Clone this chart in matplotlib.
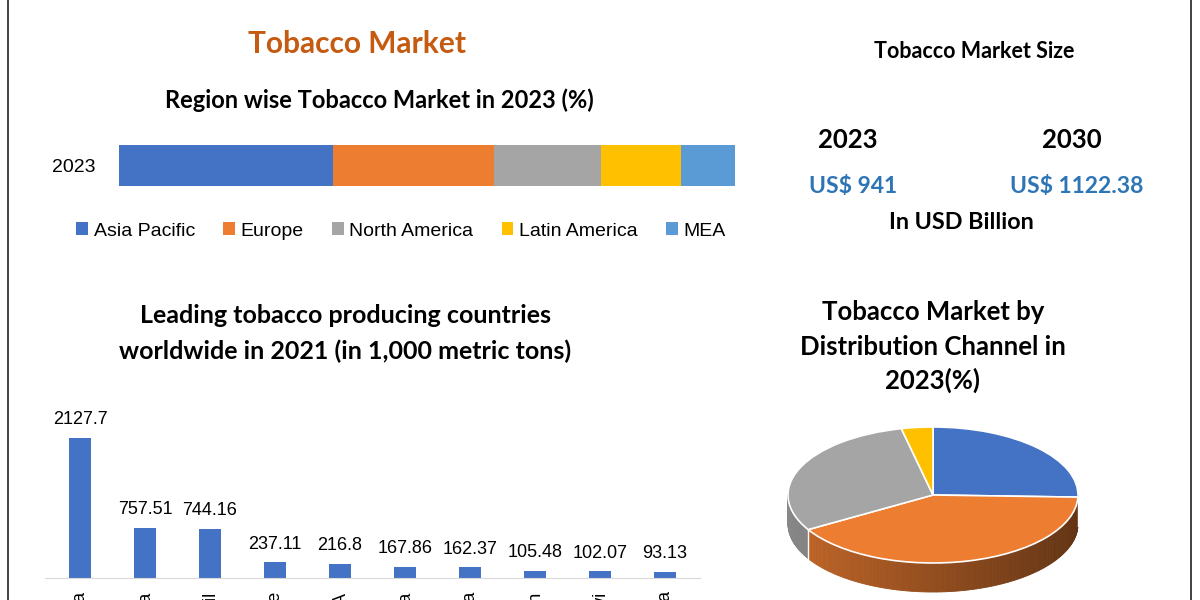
import numpy as np
import matplotlib
matplotlib.use("Agg")
import matplotlib.pyplot as plt
from matplotlib.patches import Wedge
from matplotlib.collections import PolyCollection
from matplotlib.lines import Line2D
from matplotlib.transforms import Affine2D
from matplotlib.colors import to_rgb

plt.rcParams['font.family'] = ['Liberation Sans', 'DejaVu Sans']
TITLE_FONT = ['Lato', 'DejaVu Sans']

# region share 2023 (%)
regions = ['Asia Pacific', 'Europe', 'North America', 'Latin America', 'MEA']
region_share = [34.7, 26.1, 17.4, 13.0, 8.8]
region_colors = ['#4472C4', '#ED7D31', '#A5A5A5', '#FFC000', '#5B9BD5']

# producing countries 2021 (1,000 metric tons)
countries = ['China', 'India', 'Brazil', 'Zimbabwe', 'USA', 'Indonesia',
             'Zambia', 'Pakistan', 'Malawi', 'Tanzania']
production = [2127.7, 757.51, 744.16, 237.11, 216.8, 167.86, 162.37, 105.48, 102.07, 93.13]

# distribution channel share 2023 (%)
channels = ['Channel A', 'Channel B', 'Channel C', 'Channel D']
channel_share = [25.5, 41.0, 30.0, 3.5]
channel_colors = ['#4472C4', '#ED7D31', '#A5A5A5', '#FFC000']

size_years = ['2023', '2030']
size_values = ['US$ 941', 'US$ 1122.38']

W, H = 1200, 600
fig = plt.figure(figsize=(12, 6), dpi=100)


def ft(x, y, s, **kw):
    fig.text(x / W, 1 - y / H, s, ha='center', va='center', **kw)


# ---- titles / text blocks
ft(357, 44, 'Tobacco Market', fontsize=21.5, fontweight='bold', color='#C55A11', family=TITLE_FONT)
ft(379, 100, 'Region wise Tobacco Market in 2023 (%)', fontsize=17, fontweight='bold', family=TITLE_FONT)
ft(345, 316, 'Leading tobacco producing countries', fontsize=18, fontweight='bold', family=TITLE_FONT)
ft(345, 351, 'worldwide in 2021 (in 1,000 metric tons)', fontsize=18, fontweight='bold', family=TITLE_FONT)
ft(974, 52, 'Tobacco Market Size', fontsize=15.5, fontweight='bold', family=TITLE_FONT)
for xx, yr, val in zip([848, 1072], size_years, size_values):
    ft(xx, 140, yr, fontsize=18.5, fontweight='bold', family=TITLE_FONT)
    ft(xx + 5, 186, val, fontsize=16.5, fontweight='bold', color='#2E75B6', family=TITLE_FONT)
ft(961, 223, 'In USD Billion', fontsize=16.8, fontweight='bold', family=TITLE_FONT)
for yy, line in zip([312, 347, 380], ['Tobacco Market by', 'Distribution Channel in', '2023(%)']):
    ft(933, yy, line, fontsize=18.5, fontweight='bold', family=TITLE_FONT)

# ---- stacked bar
ax1 = fig.add_axes([119 / W, 1 - 186 / H, 616 / W, 41 / H])
left = np.concatenate([[0], np.cumsum(region_share)[:-1]])
handles = []
for name, v, l, c in zip(regions, region_share, left, region_colors):
    handles.append(ax1.barh(0, v, left=l, height=1, color=c, label=name))
ax1.set_xlim(0, sum(region_share))
ax1.set_ylim(-0.5, 0.5)
ax1.set_yticks([0])
ax1.set_yticklabels(['2023'], fontsize=14)
ax1.set_xticks([])
ax1.tick_params(axis='y', length=0, pad=17)
for s in ax1.spines.values():
    s.set_visible(False)
fig.legend(handles=handles, loc='center', bbox_to_anchor=(401 / W, 1 - 231 / H), ncol=5,
           frameon=False, fontsize=14, handlelength=0.6, handleheight=0.6,
           handletextpad=0.3, columnspacing=1.45)

# ---- production bars
ax2 = fig.add_axes([45 / W, 1 - 578 / H, 655 / W, 178 / H])
x = np.arange(len(countries))
bars = ax2.bar(x, production, width=0.34, color='#4472C4')
ax2.bar_label(bars, labels=[f'{v:g}' for v in production], padding=7, fontsize=13)
ax2.set_xlim(-0.54, 9.54)
ax2.set_ylim(0, 2705)
ax2.set_xticks(x)
ax2.set_xticklabels(countries, rotation=90, fontsize=13)
ax2.tick_params(axis='x', length=0, pad=9)
ax2.set_yticks([])
for k in ['top', 'left', 'right']:
    ax2.spines[k].set_visible(False)
ax2.spines['bottom'].set_color('#D9D9D9')

# ---- 3D pie
ax3 = fig.add_axes([770 / W, 0, 330 / W, 200 / H])
ax3.set_xlim(770, 1100)
ax3.set_ylim(600, 400)
ax3.axis('off')
cx, cy, a, b, depth = 933, 495, 145, 68, 29

bounds = 90 - 360 * np.concatenate([[0], np.cumsum(channel_share)]) / sum(channel_share)
polys, cols = [], []
for i, c in enumerate(channel_colors):
    t_hi, t_lo = bounds[i], bounds[i + 1]
    lo, hi = max(t_lo, -180), min(t_hi, 0)
    if hi <= lo:
        continue
    ts = np.linspace(lo, hi, max(2, int(hi - lo) + 2))
    for t0, t1 in zip(ts[:-1], ts[1:]):
        r0, r1 = np.radians(t0), np.radians(t1)
        x0, y0 = cx + a * np.cos(r0), cy - b * np.sin(r0)
        x1, y1 = cx + a * np.cos(r1), cy - b * np.sin(r1)
        polys.append([(x0, y0), (x1, y1), (x1, y1 + depth), (x0, y0 + depth)])
        f = 0.82 - 0.40 * (1 + np.cos((r0 + r1) / 2)) / 2
        cols.append(tuple(np.array(to_rgb(c)) * f))
ax3.add_collection(PolyCollection(polys, facecolors=cols, edgecolors=cols, linewidths=0.6))
# white seam where the side slices meet
for t in bounds:
    tt = (t + 360) % 360 - 360 if t > 0 else t
    if -180 < tt < 0:
        r = np.radians(tt)
        xs = cx + a * np.cos(r)
        ys = cy - b * np.sin(r)
        ax3.plot([xs, xs], [ys, ys + depth], color='white', lw=1)

tr = Affine2D().scale(a, -b).translate(cx, cy) + ax3.transData
for i, c in enumerate(channel_colors):
    ax3.add_patch(Wedge((0, 0), 1, bounds[i + 1], bounds[i], facecolor=c,
                        edgecolor='white', lw=1.2, transform=tr))

# ---- border lines
fig.add_artist(Line2D([8 / W, 8 / W], [0, 1], color='#333333', lw=1.3))
fig.add_artist(Line2D([1191 / W, 1191 / W], [0, 1], color='#333333', lw=1.3))

fig.savefig('out.png', dpi=100)
